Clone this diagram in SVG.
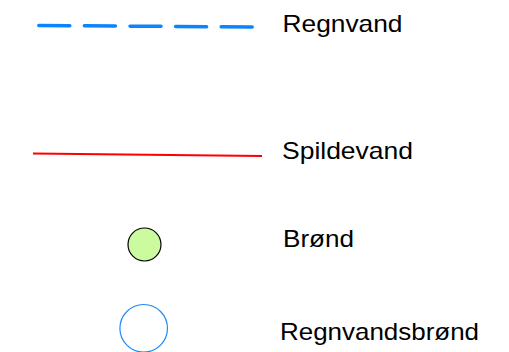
<svg xmlns="http://www.w3.org/2000/svg" width="509" height="352" viewBox="0 0 509 352">
<style>
.lbl{font-family:"Liberation Sans",Arial,sans-serif;font-size:24px;fill:#000}
</style>
<rect width="509" height="352" fill="#fff"/>
<g id="connectors">
<line x1="38.8" y1="25.5" x2="254.5" y2="27" stroke="#0a84ff" stroke-width="3.5" stroke-linecap="round" stroke-dasharray="31 14.6"/>
<line x1="33" y1="153.5" x2="262" y2="156" stroke="#ff0000" stroke-width="2"/>
</g>
<g id="regnvand"><text class="lbl" x="282.5" y="31.5" textLength="120" lengthAdjust="spacingAndGlyphs">Regnvand</text></g>
<g id="spildevand"><text class="lbl" x="282" y="159" textLength="131" lengthAdjust="spacingAndGlyphs">Spildevand</text></g>
<g id="brond">
<circle cx="144.5" cy="244.5" r="16.5" fill="#ccfa9f" stroke="#000" stroke-width="1.2"/>
<text class="lbl" x="283" y="247" textLength="71" lengthAdjust="spacingAndGlyphs">Brønd</text>
</g>
<g id="regnvandsbrond">
<circle cx="143.7" cy="328.3" r="23.8" fill="#fff" stroke="#1e88f5" stroke-width="1.2"/>
<text class="lbl" x="280" y="340.3" textLength="199" lengthAdjust="spacingAndGlyphs">Regnvandsbrønd</text>
</g>
</svg>
